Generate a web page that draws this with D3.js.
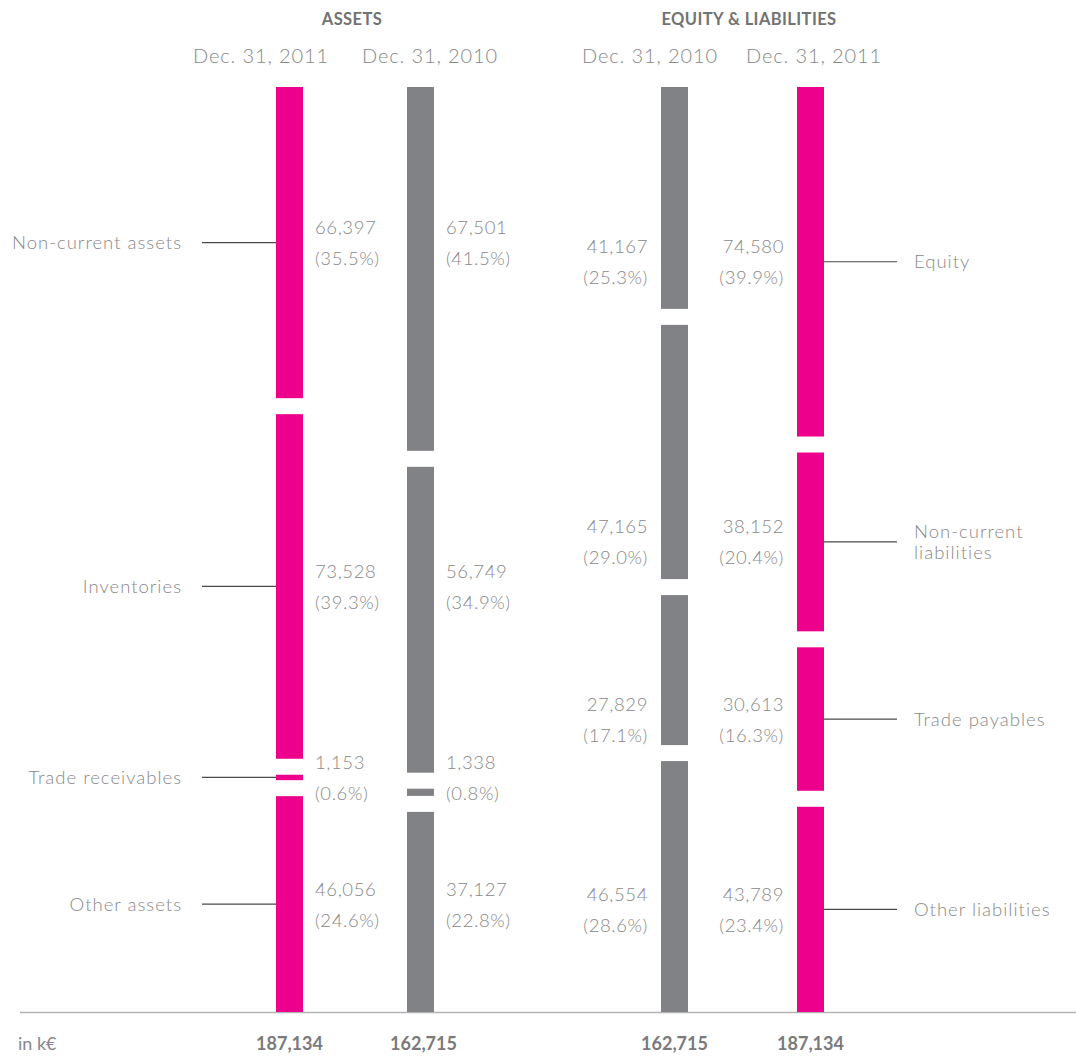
<!DOCTYPE html>
<html><head><meta charset="utf-8">
<script src="https://cdn.jsdelivr.net/npm/d3@7"></script>
<style>
html,body{margin:0;padding:0;background:#fff;}
svg{display:block;}
</style>
</head><body>
<svg id="chart" width="1076" height="1056"></svg>
<script>
// ---- data ----
const assetCategories = ["Non-current assets", "Inventories", "Trade receivables", "Other assets"];
const assets2011 = [66397, 73528, 1153, 46056];
const assets2010 = [67501, 56749, 1338, 37127];
const assetsPct2011 = ["35.5%", "39.3%", "0.6%", "24.6%"];
const assetsPct2010 = ["41.5%", "34.9%", "0.8%", "22.8%"];

const liabCategories = ["Equity", "Non-current|liabilities", "Trade payables", "Other liabilities"];
const liab2010 = [41167, 47165, 27829, 46554];
const liab2011 = [74580, 38152, 30613, 43789];
const liabPct2010 = ["25.3%", "29.0%", "17.1%", "28.6%"];
const liabPct2011 = ["39.9%", "20.4%", "16.3%", "23.4%"];

const groupTitles = ["ASSETS", "EQUITY & LIABILITIES"];
const columnDates = ["Dec. 31, 2011", "Dec. 31, 2010", "Dec. 31, 2010", "Dec. 31, 2011"];
const unitLabel = "in k€";

// ---- layout ----
const PINK = "#EC008C", GRAY = "#808285", TEXT = "#88888a";
const FONT = "Lato, 'Open Sans', sans-serif";
const plotTop = 87, plotBottom = 1012, gap = 16, barW = 27;
const fmt = d3.format(",");

const svg = d3.select("#chart");

const columns = [
  {key: "a2011", values: assets2011, pct: assetsPct2011, color: PINK, side: "right", date: columnDates[0]},
  {key: "a2010", values: assets2010, pct: assetsPct2010, color: GRAY, side: "right", date: columnDates[1]},
  {key: "l2010", values: liab2010, pct: liabPct2010, color: GRAY, side: "left", date: columnDates[2]},
  {key: "l2011", values: liab2011, pct: liabPct2011, color: PINK, side: "left", date: columnDates[3]}
];
const x = d3.scaleOrdinal().domain(columns.map(c => c.key)).range([276, 407, 661, 797]);

columns.forEach(c => {
  const total = d3.sum(c.values);
  c.total = total;
  const h = d3.scaleLinear().domain([0, total]).range([0, (plotBottom - plotTop) - gap * (c.values.length - 1)]);
  let y = plotTop;
  c.segs = c.values.map((v, i) => {
    const s = {v, i, y0: y, h: h(v)};
    y += h(v) + gap;
    return s;
  });
});

// row centers from the 2011 columns
const assetCenters = columns[0].segs.map(s => s.y0 + s.h / 2);
const liabCenters = columns[3].segs.map(s => s.y0 + s.h / 2);

// baseline
svg.append("line").attr("x1", 20).attr("x2", 1076).attr("y1", plotBottom + 0.5).attr("y2", plotBottom + 0.5)
  .attr("stroke", "#b3b3b3").attr("stroke-width", 1.5);

// bars
columns.forEach(c => {
  svg.append("g").selectAll("rect").data(c.segs).join("rect")
    .attr("x", x(c.key)).attr("width", barW)
    .attr("y", d => d.y0).attr("height", d => Math.max(d.h, 0.5))
    .attr("fill", c.color);
});

// value labels
columns.forEach((c, ci) => {
  const centers = ci < 2 ? assetCenters : liabCenters;
  const g = svg.append("g").attr("font-family", FONT).attr("font-size", 18.5).attr("font-weight", 300)
    .attr("fill", TEXT);
  const right = c.side === "right";
  const lx = right ? x(c.key) + barW + 12 : x(c.key) - 13;
  c.segs.forEach((s, i) => {
    const t = g.append("text").attr("x", lx).attr("text-anchor", right ? "start" : "end")
      .attr("letter-spacing", 0.6);
    t.append("tspan").attr("x", lx).attr("y", centers[i] - 15).attr("dy", "0.35em").text(fmt(s.v));
    t.append("tspan").attr("x", lx).attr("y", centers[i] + 16).attr("dy", "0.35em").text("(" + c.pct[i] + ")");
  });
});

// category labels + leader lines
const catG = svg.append("g").attr("font-family", FONT).attr("font-size", 18.5).attr("font-weight", 300)
  .attr("fill", TEXT).attr("letter-spacing", 1.0);
assetCategories.forEach((name, i) => {
  const cy = assetCenters[i];
  svg.append("line").attr("x1", 202).attr("x2", x("a2011")).attr("y1", cy).attr("y2", cy)
    .attr("stroke", "#4a4a4a").attr("stroke-width", 1.2);
  catG.append("text").attr("x", 182).attr("y", cy).attr("dy", "0.35em").attr("text-anchor", "end").text(name);
});
liabCategories.forEach((name, i) => {
  const cy = liabCenters[i];
  svg.append("line").attr("x1", x("l2011") + barW).attr("x2", 897).attr("y1", cy).attr("y2", cy)
    .attr("stroke", "#4a4a4a").attr("stroke-width", 1.2);
  const parts = name.split("|");
  const t = catG.append("text").attr("x", 914);
  parts.forEach((p, k) => {
    t.append("tspan").attr("x", 914).attr("y", cy + (k - (parts.length - 1) / 2) * 21)
      .attr("dy", "0.35em").text(p);
  });
});

// headers
const titleX = [352, 749];
svg.append("g").selectAll("text").data(groupTitles).join("text")
  .attr("x", (d, i) => titleX[i]).attr("y", 19).attr("dy", "0.35em")
  .attr("text-anchor", "middle").attr("font-family", FONT).attr("font-size", 16.5).attr("font-weight", 700)
  .attr("letter-spacing", 0.4)
  .attr("fill", "#737373").text(d => d);

const dateCenters = [261, 430, 650, 814];
svg.append("g").selectAll("text").data(columns).join("text")
  .attr("x", (d, i) => dateCenters[i]).attr("y", 56).attr("dy", "0.35em")
  .attr("text-anchor", "middle").attr("font-family", FONT).attr("font-size", 20).attr("font-weight", 300)
  .attr("letter-spacing", 0.9)
  .attr("fill", TEXT).text(d => d.date);

// totals
svg.append("g").selectAll("text").data(columns).join("text")
  .attr("x", d => x(d.key) + barW / 2 + (d.key === "a2010" ? 3 : 0)).attr("y", 1044).attr("dy", "0.35em")
  .attr("text-anchor", "middle").attr("font-family", FONT).attr("font-size", 18).attr("font-weight", 700)
  .attr("fill", "#7a7a7c").text(d => fmt(d.total));

svg.append("text").attr("x", 18).attr("y", 1044).attr("dy", "0.35em")
  .attr("font-family", FONT).attr("font-size", 18).attr("font-weight", 400).attr("fill", TEXT).text(unitLabel);
</script>
</body></html>
